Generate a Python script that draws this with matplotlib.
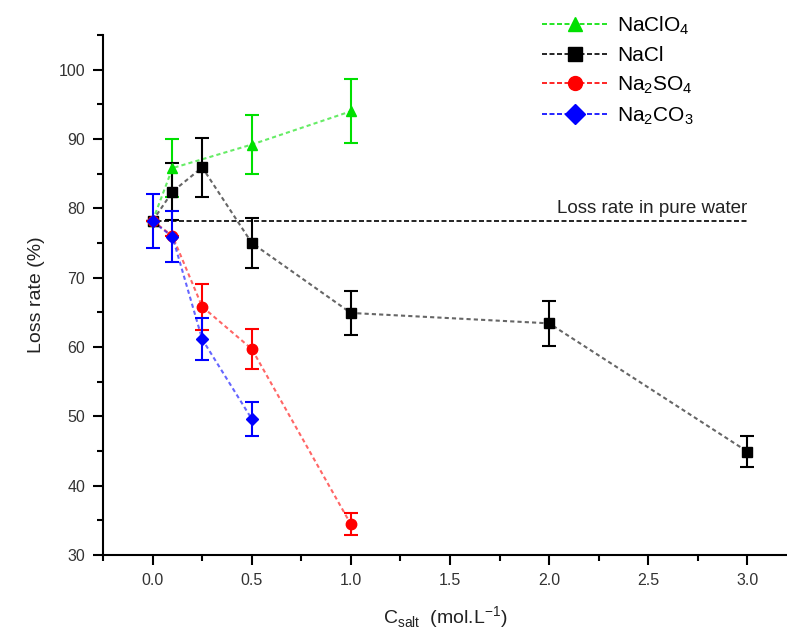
import matplotlib.pyplot as plt
from matplotlib.ticker import MultipleLocator

plt.rcParams['font.family'] = ['Liberation Sans', 'DejaVu Sans']
plt.rcParams['mathtext.fontset'] = 'custom'
plt.rcParams['mathtext.rm'] = 'Liberation Sans'

# data
x_clo4 = [0.0, 0.1, 0.5, 1.0]
y_clo4 = [78.2, 85.8, 89.2, 94.0]
e_clo4 = [0.0, 4.2, 4.3, 4.6]

x_nacl = [0.0, 0.1, 0.25, 0.5, 1.0, 2.0, 3.0]
y_nacl = [78.2, 82.4, 85.9, 75.0, 64.9, 63.4, 44.9]
e_nacl = [0.0, 4.1, 4.3, 3.6, 3.2, 3.2, 2.2]

x_so4 = [0.0, 0.1, 0.25, 0.5, 1.0]
y_so4 = [78.2, 76.0, 65.8, 59.7, 34.4]
e_so4 = [0.0, 0.0, 3.3, 2.9, 1.6]

x_co3 = [0.0, 0.1, 0.25, 0.5]
y_co3 = [78.1, 75.9, 61.1, 49.6]
e_co3 = [3.9, 3.7, 3.0, 2.4]

pure_water = 78.1

series = [
    (x_clo4, y_clo4, e_clo4, '#00e000', '^', 'NaClO$_4$'),
    (x_nacl, y_nacl, e_nacl, 'black', 's', 'NaCl'),
    (x_so4, y_so4, e_so4, 'red', 'o', 'Na$_2$SO$_4$'),
    (x_co3, y_co3, e_co3, 'blue', 'D', 'Na$_2$CO$_3$'),
]

fig = plt.figure(figsize=(7.87, 6.37), dpi=100)
ax = fig.add_axes([0.131, 0.129, 0.869, 0.816])

handles = []
for xs, ys, es, col, mk, lab in series:
    ax.plot(xs, ys, linestyle=(0, (2, 1.5)), color=col, lw=1.5, alpha=0.6, zorder=2)
    ax.errorbar(xs, ys, yerr=es, fmt='none', ecolor=col, elinewidth=1.5,
                capsize=5, capthick=1.5, zorder=3)
    ms = 6.5 if mk == 'D' else 7.5
    if mk == 's':
        ms = 7
    ax.plot(xs, ys, linestyle='none', marker=mk, color=col, ms=ms, zorder=4)
    h, = ax.plot([], [], linestyle=(0, (3, 1.5)), color=col, lw=1.2,
                 marker=mk, ms=10, label=lab)
    handles.append(h)

ax.plot([-0.02, 3.0], [pure_water, pure_water], color='black',
        linestyle=(0, (3, 1.5)), lw=1.2, zorder=1)
ax.text(3.0, pure_water + 0.6, 'Loss rate in pure water', ha='right',
        va='bottom', fontsize=13.5, color='#222222')

ax.set_xlim(-0.25, 3.2)
ax.set_ylim(30, 105)
ax.xaxis.set_major_locator(MultipleLocator(0.5))
ax.xaxis.set_minor_locator(MultipleLocator(0.25))
ax.yaxis.set_major_locator(MultipleLocator(10))
ax.yaxis.set_minor_locator(MultipleLocator(5))
ax.xaxis.set_major_formatter(plt.FormatStrFormatter('%.1f'))
ax.set_yticks(range(30, 101, 10))
ax.tick_params(which='major', direction='out', length=7, width=1.5,
               labelsize=11.5, labelcolor='#333333', pad=6)
ax.tick_params(which='minor', direction='out', length=4, width=1.5)

for s in ['top', 'right']:
    ax.spines[s].set_visible(False)
for s in ['left', 'bottom']:
    ax.spines[s].set_linewidth(1.5)

ax.set_xlabel('C$_{\\mathrm{salt}}$  (mol.L$^{-1}$)', fontsize=14, color='#222222', labelpad=12)
ax.set_ylabel('Loss rate (%)', fontsize=14, color='#222222', labelpad=10)

leg = fig.legend(handles=handles, loc='upper left',
                 bbox_to_anchor=(0.665, 1.007), frameon=False, fontsize=15,
                 handlelength=3.2, labelspacing=0.45, handletextpad=0.4)

fig.savefig('out.png', dpi=100)
